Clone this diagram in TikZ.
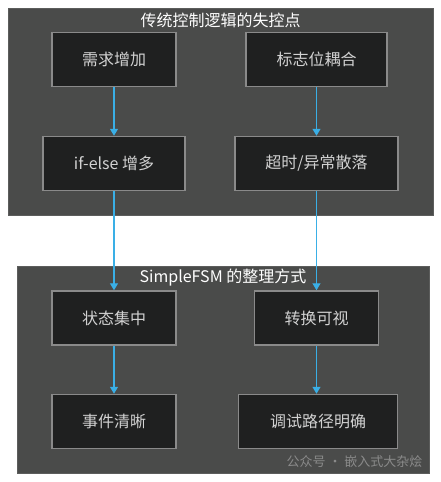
\documentclass[tikz,border=0pt]{standalone}
\usepackage{fontspec}
\setmainfont{Noto Sans CJK SC}
\usetikzlibrary{arrows.meta}
\definecolor{clusterbg}{HTML}{4A4B4A}
\definecolor{clusterline}{HTML}{5C5D5C}
\definecolor{boxbg}{HTML}{1F2020}
\definecolor{boxline}{HTML}{8A8A8A}
\definecolor{boxtext}{HTML}{D2D2D2}
\definecolor{flowblue}{HTML}{3AAFE6}

\begin{document}
\begin{tikzpicture}[x=1pt, y=-1pt,
        cluster/.style={fill=clusterbg, draw=clusterline, line width=1pt},
        title/.style={text=white, font=\fontsize{16}{19}\selectfont},
        stepbox/.style={draw=boxline, fill=boxbg, line width=1.5pt,
            text=boxtext, font=\fontsize{16}{19}\selectfont,
            minimum height=54pt, inner sep=0pt},
        flow/.style={-{Triangle[width=8pt,length=7pt]}, flowblue, line width=1.2pt}]

                    \useasboundingbox [fill=white] (0, 0) rectangle (441, 482);

                    % two clusters
                    \draw [cluster] (8, 8) rectangle (433, 215);
                    \draw [cluster] (17, 266) rectangle (429, 473);
                    \node [title] (t_old) at (220.5, 20) {传统控制逻辑的失控点};
                    \node [title] (t_fsm) at (223, 278) {SimpleFSM 的整理方式};

                    % boxes of the top cluster
                    \node [stepbox, minimum width=124pt] (need) at (114, 59.5) {需求增加};
                    \node [stepbox, minimum width=141pt] (flag) at (316.5, 59.5) {标志位耦合};
                    \node [stepbox, minimum width=142pt] (ifelse) at (114, 163.5) {if-else 增多};
                    \node [stepbox, minimum width=163pt] (timeout) at (316.5, 163.5) {超时/异常散落};

                    % boxes of the bottom cluster
                    \node [stepbox, minimum width=124pt] (state) at (114, 318) {状态集中};
                    \node [stepbox, minimum width=124pt] (trans) at (316.5, 318) {转换可视};
                    \node [stepbox, minimum width=124pt] (event) at (114, 421.5) {事件清晰};
                    \node [stepbox, minimum width=159pt] (debug) at (318, 421.5) {调试路径明确};

                    \foreach \a/\b in {need/ifelse, flag/timeout, ifelse/state,
                                       timeout/trans, state/event}
                        \draw [flow] (\a.south) -- (\b.north);
                    \draw [flow] (trans.south) -- (trans.south |- debug.north);

                    \node [text=boxline, font=\fontsize{13}{15}\selectfont, anchor=east]
                        (mark) at (426, 462) {公众号 · 嵌入式大杂烩};
                \end{tikzpicture}
\end{document}
